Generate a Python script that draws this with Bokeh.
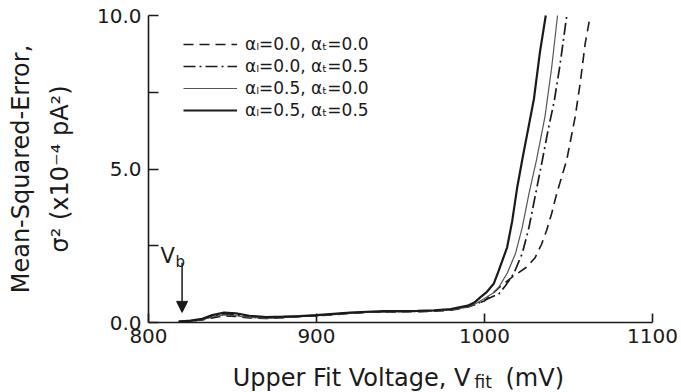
from bokeh.plotting import figure
from bokeh.models import (FixedTicker, PrintfTickFormatter, Legend, LegendItem,
                          Label, Arrow, NormalHead, Range1d)
from bokeh.embed import file_html
from bokeh.resources import INLINE

# ---------------- data ----------------
base_v = [818, 825, 832, 838, 845, 852, 860, 870, 880, 890, 900, 910, 920,
          930, 940, 950, 960, 970, 980, 990]

b_dashed = [0.03, 0.05, 0.08, 0.15, 0.22, 0.20, 0.15, 0.13, 0.16, 0.20, 0.22,
            0.25, 0.30, 0.33, 0.34, 0.35, 0.35, 0.37, 0.40, 0.50]
b_dashdot = [0.03, 0.05, 0.10, 0.20, 0.28, 0.25, 0.18, 0.15, 0.17, 0.20, 0.23,
             0.27, 0.31, 0.34, 0.35, 0.36, 0.36, 0.38, 0.42, 0.52]
b_thin = [0.03, 0.04, 0.09, 0.18, 0.25, 0.22, 0.17, 0.14, 0.16, 0.19, 0.22,
          0.26, 0.30, 0.33, 0.35, 0.35, 0.36, 0.38, 0.41, 0.50]
b_thick = [0.03, 0.06, 0.12, 0.24, 0.32, 0.30, 0.22, 0.18, 0.19, 0.21, 0.24,
           0.28, 0.32, 0.35, 0.37, 0.37, 0.38, 0.40, 0.44, 0.55]

# alpha_l=0.0, alpha_t=0.0 (dashed)
v_00 = base_v + [1000, 1009, 1017, 1025, 1030, 1034, 1037, 1040, 1043, 1046,
                 1049, 1054, 1057, 1060, 1063]
s_00 = b_dashed + [0.70, 1.15, 1.50, 1.80, 2.10, 2.55, 3.00, 3.55, 4.20, 4.75,
                   5.30, 6.70, 7.80, 9.10, 10.0]

# alpha_l=0.0, alpha_t=0.5 (dash-dot)
v_05 = base_v + [995, 1003, 1008.5, 1012.5, 1017.5, 1022.5, 1026.5, 1030.5,
                 1034.5, 1038, 1041.5, 1045, 1049]
s_05 = b_dashdot + [0.60, 0.80, 0.93, 1.20, 1.60, 2.25, 3.10, 4.20, 5.30, 6.30,
                    7.20, 8.40, 10.0]

# alpha_l=0.5, alpha_t=0.0 (thin solid)
v_50 = base_v + [995, 1000, 1005, 1008.5, 1013.5, 1018.5, 1022.5, 1026.5,
                 1031, 1036, 1040, 1043.5]
s_50 = b_thin + [0.62, 0.78, 0.95, 1.15, 1.60, 2.25, 3.10, 4.20, 5.30, 6.70,
                 8.30, 10.0]

# alpha_l=0.5, alpha_t=0.5 (thick solid)
v_55 = base_v + [994, 997.5, 1001.5, 1005.5, 1008.5, 1013.5, 1016.5, 1019.5,
                 1022.5, 1026, 1029.5, 1033, 1036.5]
s_55 = b_thick + [0.65, 0.82, 1.00, 1.26, 1.69, 2.45, 3.30, 4.40, 5.30, 6.30,
                  7.30, 8.80, 10.0]

labels = ["αₗ=0.0, αₜ=0.0", "αₗ=0.0, αₜ=0.5",
          "αₗ=0.5, αₜ=0.0", "αₗ=0.5, αₜ=0.5"]
x_ticks = [800, 900, 1000, 1100]
y_ticks = [0, 5, 10]
y_minor = [2.5, 7.5]
x_lo, x_hi = 800, 1100
y_lo, y_hi = 0, 10
vb_voltage = 820
vb_arrow_top = 1.95
vb_arrow_tip = 0.33

FONT = "DejaVu Sans"
INK = "#1a1a1a"

# The frame fills the whole canvas; both axes are pinned to the data corner
# (800, 0) and limited by bounds, so labels outside the axes stay visible.
p = figure(width=681, height=392, output_backend="svg", toolbar_location=None,
           x_range=Range1d(711.9, 1117.3), y_range=Range1d(-2.28, 10.49),
           min_border=0, min_border_left=0, min_border_right=0,
           min_border_top=0, min_border_bottom=0)
p.outline_line_color = None
p.xgrid.visible = False
p.ygrid.visible = False
p.background_fill_color = "white"
p.border_fill_color = "white"

r1 = p.line(v_00, s_00, line_color=INK, line_width=1.6, line_dash="10 6")
r2 = p.line(v_05, s_05, line_color=INK, line_width=1.7, line_dash="12 4 2 4")
r3 = p.line(v_50, s_50, line_color="#555555", line_width=1.2)
r4 = p.line(v_55, s_55, line_color=INK, line_width=2.2)

# axes
for ax in (p.xaxis[0], p.yaxis[0]):
    ax.axis_line_color = INK
    ax.axis_line_width = 1.6
    ax.major_tick_line_color = INK
    ax.major_tick_line_width = 1.6
    ax.minor_tick_line_color = INK
    ax.minor_tick_line_width = 1.6
    ax.major_tick_out = 0
    ax.minor_tick_out = 0
    ax.major_label_text_font = FONT
    ax.major_label_text_font_size = "20px"
    ax.major_label_text_color = INK

p.xaxis.fixed_location = y_lo
p.xaxis.bounds = (x_lo, x_hi)
p.xaxis.ticker = FixedTicker(ticks=x_ticks)
p.xaxis.major_tick_in = 9
p.xaxis.minor_tick_in = 0
p.xaxis.major_label_standoff = 6

p.yaxis.fixed_location = x_lo
p.yaxis.bounds = (y_lo, y_hi)
p.yaxis.ticker = FixedTicker(ticks=y_ticks, minor_ticks=y_minor)
p.yaxis.formatter = PrintfTickFormatter(format="%.1f")
p.yaxis.major_tick_in = 10
p.yaxis.minor_tick_in = 10
p.yaxis.major_label_standoff = 7
p.yaxis.axis_label = "Mean-Squared-Error,\nσ² (x10⁻⁴ pA²)"
p.yaxis.axis_label_text_font = FONT
p.yaxis.axis_label_text_font_size = "24px"
p.yaxis.axis_label_text_font_style = "normal"
p.yaxis.axis_label_text_color = INK
p.yaxis.axis_label_text_line_height = 1.4
p.yaxis.axis_label_standoff = 20

# x-axis label with subscript
p.add_layout(Label(x=x_lo, y=y_lo, x_offset=322, y_offset=-55,
                   text="Upper Fit Voltage, V",
                   text_align="right", text_baseline="alphabetic", text_font=FONT,
                   text_font_size="24px", text_color=INK))
p.add_layout(Label(x=x_lo, y=y_lo, x_offset=326, y_offset=-59, text="fit",
                   text_align="left", text_baseline="alphabetic", text_font=FONT,
                   text_font_size="17px", text_color=INK))
p.add_layout(Label(x=x_lo, y=y_lo, x_offset=357, y_offset=-55, text="(mV)",
                   text_align="left", text_baseline="alphabetic", text_font=FONT,
                   text_font_size="24px", text_color=INK))

# V_b marker
p.add_layout(Label(x=x_lo, y=vb_arrow_top, x_offset=12, y_offset=7, text="V",
                   text_align="left", text_baseline="alphabetic", text_font=FONT,
                   text_font_size="21px", text_color=INK))
p.add_layout(Label(x=x_lo, y=vb_arrow_top, x_offset=27, y_offset=1, text="b",
                   text_align="left", text_baseline="alphabetic", text_font=FONT,
                   text_font_size="15px", text_color=INK))
p.add_layout(Arrow(x_start=vb_voltage, y_start=vb_arrow_top, x_end=vb_voltage,
                   y_end=vb_arrow_tip, line_color=INK, line_width=1.5,
                   end=NormalHead(size=11, fill_color=INK, line_color=INK)))

legend = Legend(items=[LegendItem(label=labels[0], renderers=[r1]),
                       LegendItem(label=labels[1], renderers=[r2]),
                       LegendItem(label=labels[2], renderers=[r3]),
                       LegendItem(label=labels[3], renderers=[r4])],
                location=(183, 271), margin=0, padding=0, spacing=0,
                glyph_width=54, glyph_height=22, label_height=22,
                label_standoff=8, label_text_font=FONT,
                label_text_font_size="17px", label_text_color=INK,
                border_line_color=None, background_fill_alpha=0)
p.add_layout(legend)

open("out.html", "w").write(file_html(p, INLINE))
